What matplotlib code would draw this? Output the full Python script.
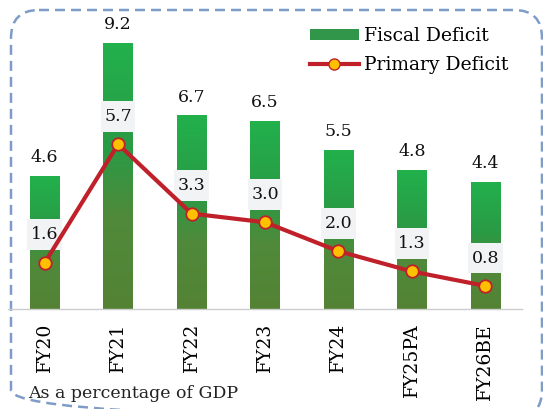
import numpy as np
import matplotlib
matplotlib.use("Agg")
import matplotlib.pyplot as plt
from matplotlib.patches import FancyBboxPatch, Rectangle
from matplotlib.colors import LinearSegmentedColormap
from matplotlib.lines import Line2D

years = ["FY20", "FY21", "FY22", "FY23", "FY24", "FY25PA", "FY26BE"]
fiscal_deficit = [4.6, 9.2, 6.7, 6.5, 5.5, 4.8, 4.4]
primary_deficit = [1.6, 5.7, 3.3, 3.0, 2.0, 1.3, 0.8]

plt.rcParams['font.family'] = ['DejaVu Serif']

fig = plt.figure(figsize=(5.43, 4.09), dpi=100)

# background layer in pixel units for the dashed rounded frame
bg = fig.add_axes([0, 0, 1, 1])
bg.set_xlim(0, 543)
bg.set_ylim(409, 0)
bg.axis("off")
frame = FancyBboxPatch((11, 10), 531, 408, boxstyle="round,pad=0,rounding_size=28",
                       fill=False, edgecolor="#7f9cc8", linewidth=1.8,
                       linestyle=(0, (4, 2.4)))
bg.add_patch(frame)

ax = fig.add_axes([8 / 543, 100 / 409, 514 / 543, 303 / 409])
ax.set_xlim(-0.5, len(years) - 0.5)
ax.set_ylim(0, 10.48)
ax.patch.set_alpha(0)

# green gradient for the bars (bright top, olive bottom)
green_map = LinearSegmentedColormap.from_list(
    "fd", [(0, "#548235"), (0.35, "#4f8a3a"), (0.6, "#2a9a45"), (1, "#22b14c")])
grad = np.linspace(0, 1, 256).reshape(-1, 1)

x = np.arange(len(years))
bar_w = 0.4
bars = ax.bar(x, fiscal_deficit, width=bar_w, color="none", zorder=2)
for b in bars:
    x0, y0 = b.get_x(), b.get_y()
    w, h = b.get_width(), b.get_height()
    im = ax.imshow(grad, cmap=green_map, origin="lower", aspect="auto",
                   extent=(x0, x0 + w, y0, y0 + h), zorder=2)
    im.set_clip_path(b)

for xi, v in zip(x, fiscal_deficit):
    ax.annotate(f"{v:.1f}", (xi, v), xytext=(0, 7), textcoords="offset points",
                ha="center", va="bottom", fontsize=12.5, color="#111111", zorder=5)

# primary deficit line
ax.plot(x, primary_deficit, color="#c0202a", linewidth=3, marker="o",
        markersize=9, markerfacecolor="#ffc000", markeredgecolor="#c0202a",
        markeredgewidth=1.3, zorder=4)

# labels with grey boxes above the markers
for xi, v in zip(x, primary_deficit):
    ax.add_patch(Rectangle((xi - 0.235, v + 0.43), 0.47, 1.07,
                           facecolor="#f2f3f4", edgecolor="none", zorder=3.5))
    ax.text(xi, v + 0.96, f"{v:.1f}", ha="center", va="center",
            fontsize=12.5, color="#111111", zorder=5)

for s in ["top", "right", "left"]:
    ax.spines[s].set_visible(False)
ax.spines["bottom"].set_color("#cccccc")
ax.spines["bottom"].set_linewidth(1)
ax.set_yticks([])
ax.set_xticks(x)
ax.set_xticklabels(years, rotation=90, fontsize=13.5, va="top")
ax.tick_params(axis="x", length=0, pad=10)

fig.text(28 / 543, 1 - 393 / 409, "As a percentage of GDP", fontsize=12.5,
         va="center", ha="left", color="#222222")

handles = [Rectangle((0, 0), 1, 1, facecolor="#32964a", edgecolor="none"),
           Line2D([], [], color="#c0202a", linewidth=3, marker="o", markersize=8,
                  markerfacecolor="#ffc000", markeredgecolor="#c0202a")]
fig.legend(handles, ["Fiscal Deficit", "Primary Deficit"], loc="upper left",
           bbox_to_anchor=(310 / 543, 1 - 27 / 409), frameon=False, fontsize=13.5,
           handlelength=2.6, handleheight=0.55, handletextpad=0.3, labelspacing=0.6,
           borderpad=0, borderaxespad=0)

fig.savefig("out.png", dpi=100)
